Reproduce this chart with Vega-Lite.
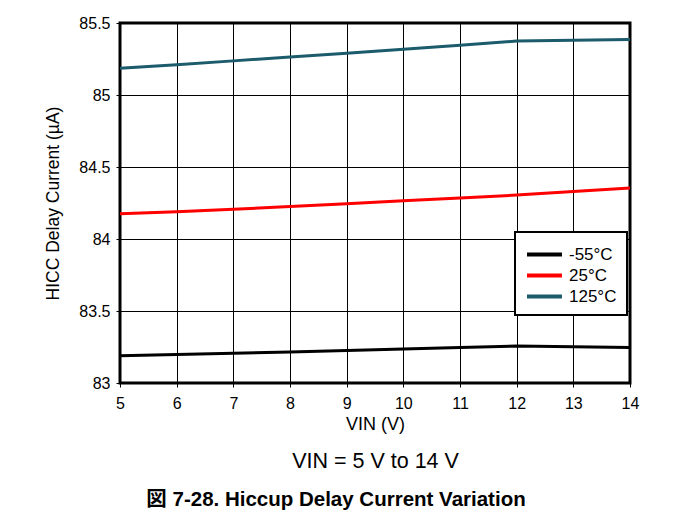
{
  "$schema": "https://vega.github.io/schema/vega-lite/v6.json",
  "width": 510,
  "height": 360,
  "autosize": {"type": "none"},
  "padding": {"left": 120, "top": 23, "right": 44, "bottom": 130},
  "background": "white",
  "title": {
    "text": "図 7-28. Hiccup Delay Current Variation",
    "orient": "bottom",
    "anchor": "middle",
    "frame": "group",
    "font": "Liberation Sans, Arial, Noto Sans CJK JP",
    "fontSize": 20.5,
    "fontWeight": "bold",
    "color": "black",
    "dx": -39,
    "offset": 18
  },
  "data": {
    "values": [
      {"VIN": 5, "Temp": "-55°C", "I": 83.19},
      {"VIN": 6, "Temp": "-55°C", "I": 83.198},
      {"VIN": 7, "Temp": "-55°C", "I": 83.207},
      {"VIN": 8, "Temp": "-55°C", "I": 83.216},
      {"VIN": 9, "Temp": "-55°C", "I": 83.226},
      {"VIN": 10, "Temp": "-55°C", "I": 83.236},
      {"VIN": 11, "Temp": "-55°C", "I": 83.246},
      {"VIN": 12, "Temp": "-55°C", "I": 83.257},
      {"VIN": 13, "Temp": "-55°C", "I": 83.252},
      {"VIN": 14, "Temp": "-55°C", "I": 83.247},
      {"VIN": 5, "Temp": "25°C", "I": 84.175},
      {"VIN": 6, "Temp": "25°C", "I": 84.19},
      {"VIN": 7, "Temp": "25°C", "I": 84.207},
      {"VIN": 8, "Temp": "25°C", "I": 84.225},
      {"VIN": 9, "Temp": "25°C", "I": 84.245},
      {"VIN": 10, "Temp": "25°C", "I": 84.265},
      {"VIN": 11, "Temp": "25°C", "I": 84.285},
      {"VIN": 12, "Temp": "25°C", "I": 84.305},
      {"VIN": 13, "Temp": "25°C", "I": 84.33},
      {"VIN": 14, "Temp": "25°C", "I": 84.355},
      {"VIN": 5, "Temp": "125°C", "I": 85.185},
      {"VIN": 6, "Temp": "125°C", "I": 85.21},
      {"VIN": 7, "Temp": "125°C", "I": 85.237},
      {"VIN": 8, "Temp": "125°C", "I": 85.264},
      {"VIN": 9, "Temp": "125°C", "I": 85.29},
      {"VIN": 10, "Temp": "125°C", "I": 85.318},
      {"VIN": 11, "Temp": "125°C", "I": 85.346},
      {"VIN": 12, "Temp": "125°C", "I": 85.375},
      {"VIN": 13, "Temp": "125°C", "I": 85.38},
      {"VIN": 14, "Temp": "125°C", "I": 85.385}
    ]
  },
  "layer": [
    {
      "mark": {"type": "line", "strokeWidth": 3},
      "encoding": {
        "x": {
          "field": "VIN",
          "type": "quantitative",
          "scale": {"domain": [5, 14], "nice": false, "zero": false},
          "axis": {
            "orient": "bottom",
            "values": [5, 6, 7, 8, 9, 10, 11, 12, 13, 14],
            "title": "VIN (V)",
            "titleFontSize": 18,
            "titlePadding": 4,
            "labelPadding": 8,
            "labelFlush": false
          }
        },
        "y": {
          "field": "I",
          "type": "quantitative",
          "scale": {"domain": [83, 85.5], "nice": false, "zero": false},
          "axis": {
            "values": [83, 83.5, 84, 84.5, 85, 85.5],
            "format": "~g",
            "title": "HICC Delay Current (µA)",
            "titleFontSize": 17.5,
            "titlePadding": 16,
            "labelPadding": 6,
            "labelFlush": false
          }
        },
        "color": {
          "field": "Temp",
          "type": "nominal",
          "scale": {"domain": ["-55°C", "25°C", "125°C"], "range": ["#000000", "#ff0000", "#1b5b6b"]},
          "legend": {
            "orient": "none",
            "legendX": 395,
            "legendY": 209,
            "title": null,
            "direction": "vertical",
            "fillColor": "white",
            "strokeColor": "black",
            "padding": 10,
            "symbolType": "M-1,0H2.33",
            "symbolSize": 441,
            "symbolStrokeWidth": 4,
            "labelFontSize": 17,
            "labelFont": "Liberation Sans, Arial",
            "labelColor": "black",
            "labelOffset": 19,
            "rowPadding": 0,
            "symbolOpacity": 1,
            "labelLimit": 200,
            "encode": {"legend": {"update": {"strokeWidth": {"value": 2}}}}
          }
        }
      }
    },
    {
      "mark": {"type": "line", "opacity": 0},
      "encoding": {
        "x": {
          "field": "VIN",
          "type": "quantitative",
          "axis": {
            "orient": "bottom",
            "title": "VIN = 5 V to 14 V",
            "labels": false,
            "ticks": false,
            "domain": false,
            "grid": false,
            "titleFontSize": 21.5,
            "titlePadding": 67
          }
        },
        "y": {"field": "I", "type": "quantitative"},
        "detail": {"field": "Temp"}
      }
    }
  ],
  "resolve": {"axis": {"x": "independent"}},
  "config": {
    "font": "Liberation Sans, Arial",
    "view": {"stroke": "black", "strokeWidth": 3},
    "axis": {
      "labelFontSize": 16,
      "labelColor": "black",
      "labelFont": "Liberation Sans, Arial",
      "titleFont": "Liberation Sans, Arial",
      "titleColor": "black",
      "titleFontWeight": "normal",
      "grid": true,
      "gridColor": "black",
      "gridOpacity": 1,
      "gridWidth": 1,
      "domain": false,
      "tickColor": "black",
      "tickSize": 4
    }
  }
}
